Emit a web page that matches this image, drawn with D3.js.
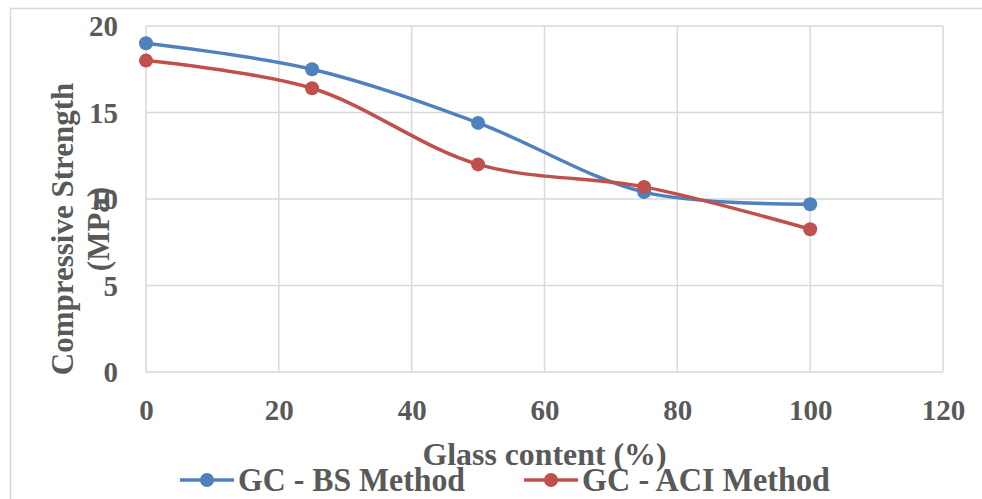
<!DOCTYPE html>
<html>
<head>
<meta charset="utf-8">
<script src="https://cdn.jsdelivr.net/npm/d3@7"></script>
<style>
  html, body { margin: 0; padding: 0; background: #fff; }
  svg { display: block; }
  svg text { font-family: "Liberation Serif", "Times New Roman", serif !important; font-weight: bold; fill: #595959; }
</style>
</head>
<body>
<svg id="chart" width="982" height="499"></svg>
<script>
// Glass content (%) on the x axis
const glassContent = [0, 25, 50, 75, 100];
// Compressive strength (MPa) for each method
const bsMethod  = [19.0, 17.5, 14.4, 10.4, 9.7];
const aciMethod = [18.0, 16.4, 12.0, 10.7, 8.25];
const seriesNames = ["GC - BS Method", "GC - ACI Method"];
const seriesColors = ["#4f81bd", "#c0504d"];
const xTicks = [0, 20, 40, 60, 80, 100, 120];
const yTicks = [0, 5, 10, 15, 20];

const serif = '"Liberation Serif", "Times New Roman", serif';
const svg = d3.select("#chart");
const plot = { left: 146, right: 943, top: 26, bottom: 372 };

const x = d3.scaleLinear().domain([0, 120]).range([plot.left, plot.right]);
const y = d3.scaleLinear().domain([0, 20]).range([plot.bottom, plot.top]);

// outer chart frame
svg.append("rect")
  .attr("x", 10.5).attr("y", 8.5).attr("width", 980).attr("height", 500)
  .attr("fill", "none").attr("stroke", "#d9d9d9").attr("stroke-width", 1.5);

// gridlines
const grid = svg.append("g");
grid.selectAll(".hg").data(yTicks).join("line")
  .attr("x1", plot.left).attr("x2", plot.right)
  .attr("y1", d => y(d)).attr("y2", d => y(d))
  .attr("stroke", "#d9d9d9").attr("stroke-width", 1.5);
grid.selectAll(".vg").data(xTicks).join("line")
  .attr("y1", plot.top).attr("y2", plot.bottom)
  .attr("x1", d => x(d)).attr("x2", d => x(d))
  .attr("stroke", "#d9d9d9").attr("stroke-width", 1.5);

// axes (labels only; lines come from the grid)
const xAxis = svg.append("g")
  .attr("transform", `translate(0,${plot.bottom})`)
  .call(d3.axisBottom(x).tickValues(xTicks).tickSize(0).tickPadding(0))
  .attr("font-family", serif).attr("font-size", 29);
xAxis.select(".domain").remove();
xAxis.selectAll("text")
  .attr("dy", null).attr("y", 48).attr("fill", "#595959");

const yAxis = svg.append("g")
  .attr("transform", `translate(118,0)`)
  .call(d3.axisLeft(y).tickValues(yTicks).tickSize(0).tickPadding(0))
  .attr("font-family", serif).attr("font-size", 29);
yAxis.select(".domain").remove();
yAxis.selectAll("text")
  .attr("dy", "0.34em").attr("x", 0).attr("fill", "#595959");

// axis titles
svg.append("text")
  .attr("x", (plot.left + plot.right) / 2).attr("y", 465)
  .attr("text-anchor", "middle").style("font-size", "31px")
  .attr("textLength", 244).attr("lengthAdjust", "spacingAndGlyphs")
  .text("Glass content (%)");

const yTitle = svg.append("text")
  .attr("transform", "translate(0,229) rotate(-90)")
  .attr("text-anchor", "middle").style("font-size", "31px");
yTitle.append("tspan").attr("x", 0).attr("y", 73).text("Compressive Strength");
yTitle.append("tspan").attr("x", 0).attr("y", 109).text("(MPa)");

// series
const line = d3.line()
  .x((d, i) => x(glassContent[i]))
  .y(d => y(d))
  .curve(d3.curveCatmullRom.alpha(0.5));

[bsMethod, aciMethod].forEach((vals, s) => {
  const g = svg.append("g");
  g.append("path").datum(vals)
    .attr("d", line).attr("fill", "none")
    .attr("stroke", seriesColors[s]).attr("stroke-width", 3.5)
    .attr("stroke-linecap", "round");
  g.selectAll("circle").data(vals).join("circle")
    .attr("cx", (d, i) => x(glassContent[i])).attr("cy", d => y(d))
    .attr("r", 7).attr("fill", seriesColors[s]);
});

// legend
const legendX = [180, 524];
const legendTextWidth = [227, 248];
seriesNames.forEach((name, s) => {
  const g = svg.append("g").attr("transform", `translate(${legendX[s]},480)`);
  g.append("line").attr("x1", 0).attr("x2", 54).attr("y1", 0).attr("y2", 0)
    .attr("stroke", seriesColors[s]).attr("stroke-width", 3.5);
  g.append("circle").attr("cx", 27).attr("cy", 0).attr("r", 7).attr("fill", seriesColors[s]);
  g.append("text").attr("x", 58).attr("y", 11).style("font-size", "34px")
    .attr("textLength", legendTextWidth[s]).attr("lengthAdjust", "spacingAndGlyphs")
    .text(name);
});
</script>
</body>
</html>
